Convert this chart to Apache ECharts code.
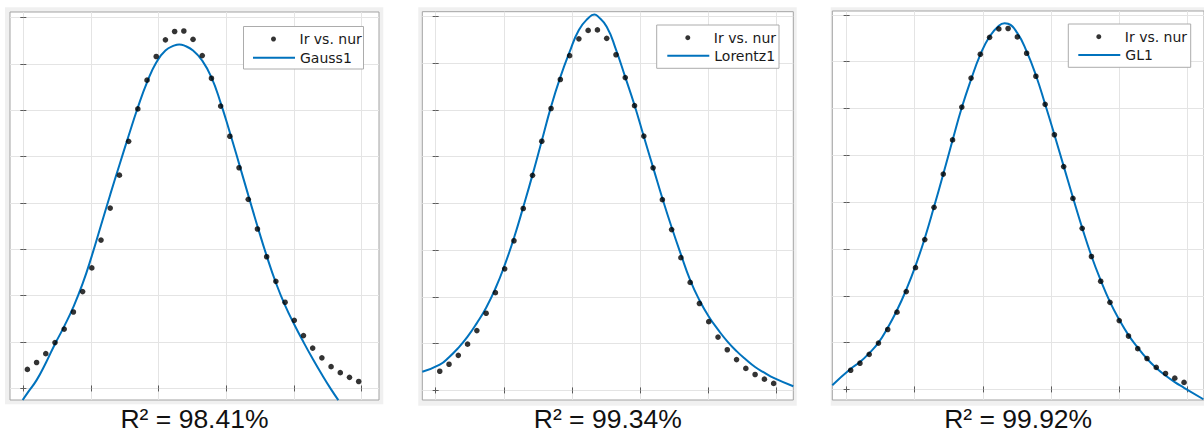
<!DOCTYPE html>
<html>
<head>
<meta charset="utf-8">
<script src="https://cdn.jsdelivr.net/npm/echarts@6/dist/echarts.min.js"></script>
<style>
html,body{margin:0;padding:0;background:#ffffff;}
#chart{width:1204px;height:437px;}
</style>
</head>
<body>
<div id="chart"></div>
<script>
// ---------- data ----------
const nurValues = [0.060, 0.196, 0.332, 0.468, 0.604, 0.740, 0.876, 1.012, 1.148, 1.284, 1.420, 1.556, 1.692, 1.828, 1.964, 2.100, 2.236, 2.372, 2.508, 2.644, 2.780, 2.916, 3.052, 3.188, 3.324, 3.460, 3.596, 3.732, 3.868, 4.004, 4.140, 4.276, 4.412, 4.548, 4.684, 4.820, 4.956];
const irValues = [0.41, 0.56, 0.75, 0.99, 1.28, 1.65, 2.09, 2.60, 3.20, 3.89, 4.60, 5.33, 6.03, 6.65, 7.16, 7.52, 7.70, 7.71, 7.53, 7.18, 6.69, 6.09, 5.44, 4.76, 4.08, 3.44, 2.84, 2.31, 1.86, 1.47, 1.14, 0.87, 0.66, 0.47, 0.34, 0.24, 0.15];

const gaussX = [-0.010, 0.060, 0.196, 0.332, 0.468, 0.604, 0.740, 0.876, 1.012, 1.148, 1.284, 1.420, 1.556, 1.692, 1.828, 1.964, 2.100, 2.236, 2.304, 2.372, 2.508, 2.644, 2.780, 2.916, 3.052, 3.188, 3.324, 3.460, 3.596, 3.732, 3.868, 4.004, 4.140, 4.276, 4.412, 4.548, 4.655];
const gaussY = [-0.25, -0.10, 0.18, 0.55, 0.96, 1.34, 1.76, 2.26, 2.86, 3.52, 4.18, 4.82, 5.45, 6.06, 6.60, 7.03, 7.29, 7.40, 7.42, 7.40, 7.29, 7.07, 6.71, 6.16, 5.52, 4.85, 4.17, 3.50, 2.86, 2.28, 1.79, 1.38, 1.00, 0.64, 0.30, -0.02, -0.25];

const lorentzX = [-0.196, 0.060, 0.196, 0.332, 0.468, 0.604, 0.740, 0.876, 1.012, 1.148, 1.284, 1.420, 1.556, 1.692, 1.828, 1.964, 2.100, 2.236, 2.327, 2.372, 2.508, 2.644, 2.780, 2.916, 3.052, 3.188, 3.324, 3.460, 3.596, 3.732, 3.868, 4.004, 4.140, 4.276, 4.412, 4.548, 4.684, 4.820, 4.956, 5.244];
const lorentzY = [0.40, 0.55, 0.71, 0.91, 1.15, 1.44, 1.77, 2.18, 2.68, 3.26, 3.92, 4.61, 5.34, 6.07, 6.70, 7.24, 7.71, 7.96, 8.04, 8.01, 7.78, 7.29, 6.70, 6.10, 5.43, 4.77, 4.11, 3.49, 2.91, 2.36, 1.93, 1.58, 1.30, 1.05, 0.84, 0.66, 0.50, 0.38, 0.27, 0.09];

const glX = [-0.210, 0.060, 0.196, 0.332, 0.468, 0.604, 0.740, 0.876, 1.012, 1.148, 1.284, 1.420, 1.556, 1.692, 1.828, 1.964, 2.100, 2.236, 2.320, 2.372, 2.508, 2.644, 2.780, 2.916, 3.052, 3.188, 3.324, 3.460, 3.596, 3.732, 3.868, 4.004, 4.140, 4.276, 4.412, 4.548, 4.684, 4.820, 4.956, 5.240];
const glY = [0.09, 0.44, 0.585, 0.775, 1.00, 1.32, 1.69, 2.13, 2.64, 3.23, 3.90, 4.60, 5.32, 6.02, 6.62, 7.15, 7.54, 7.77, 7.82, 7.81, 7.61, 7.22, 6.71, 6.09, 5.44, 4.77, 4.10, 3.45, 2.85, 2.33, 1.87, 1.49, 1.16, 0.895, 0.655, 0.458, 0.296, 0.155, 0.035, -0.21];

const scatterName = 'Ir vs. nur';
const fitNames = ['Gauss1', 'Lorentz1', 'GL1'];
const r2Labels = ['R² = 98.41%', 'R² = 99.34%', 'R² = 99.92%'];
const xTickValues = [0, 1, 2, 3, 4, 5];
const yTickValues = [0, 1, 2, 3, 4, 5, 6, 7, 8];

// ---------- layout ----------
const panels = [
  { grid: {left: 10, top: 12, width: 369, height: 390.3}, xr: [-0.197, 5.256], yr: [-0.249, 8.12],
    frame: [5, 7.3, 378.3, 397], box: [243.5, 26.5, 120, 42.5], dotLeft: 271, lineLeft: 253, legTops: [32, 50.7] },
  { grid: {left: 422.3, top: 11.7, width: 371, height: 390.6}, xr: [-0.196, 5.244], yr: [-0.205, 8.10],
    frame: [418.3, 7.3, 378.4, 398.4], box: [656.7, 25, 122.3, 43.3], dotLeft: 685.3, lineLeft: 667.3, legTops: [30.7, 48.7] },
  { grid: {left: 832.3, top: 11, width: 373, height: 393}, xr: [-0.21, 5.249], yr: [-0.226, 8.083],
    frame: [830.7, 7.3, 380, 398.4], box: [1068.3, 24, 122.4, 43.3], dotLeft: 1096.3, lineLeft: 1078.3, legTops: [29.7, 48] }
];
const fitData = [[gaussX, gaussY], [lorentzX, lorentzY], [glX, glY]];

const grids = [], xAxes = [], yAxes = [], series = [], legends = [], graphics = [];
const zip = (a, b) => a.map((v, i) => [v, b[i]]);

panels.forEach((p, i) => {
  grids.push(Object.assign({show: true, backgroundColor: '#ffffff', borderColor: '#a3a3a3', borderWidth: 1, containLabel: false}, p.grid));
  const tick = (vals) => ({show: true, inside: true, length: 3, customValues: vals, lineStyle: {color: '#5a5a5a', width: 1}});
  const split = {show: true, lineStyle: {color: '#e4e4e4', width: 1}};
  xAxes.push({type: 'value', gridIndex: i, position: 'bottom', min: p.xr[0], max: p.xr[1],
    axisLine: {show: false}, axisTick: tick(xTickValues), axisLabel: {show: false, customValues: xTickValues}, splitLine: split,
    name: r2Labels[i], nameLocation: 'middle', nameGap: 5,
    nameTextStyle: {fontFamily: 'Liberation Sans', fontSize: 26.5, color: '#111111', verticalAlign: 'top'}});
  xAxes.push({type: 'value', gridIndex: i, position: 'top', min: p.xr[0], max: p.xr[1],
    axisLine: {show: false}, axisTick: tick(xTickValues), axisLabel: {show: false, customValues: xTickValues}, splitLine: {show: false}});
  yAxes.push({type: 'value', gridIndex: i, position: 'left', min: p.yr[0], max: p.yr[1],
    axisLine: {show: false}, axisTick: tick(yTickValues), axisLabel: {show: false, customValues: yTickValues}, splitLine: split});
  yAxes.push({type: 'value', gridIndex: i, position: 'right', min: p.yr[0], max: p.yr[1],
    axisLine: {show: false}, axisTick: tick(yTickValues), axisLabel: {show: false, customValues: yTickValues}, splitLine: {show: false}});

  series.push({type: 'line', name: fitNames[i], xAxisIndex: 2 * i, yAxisIndex: 2 * i,
    data: zip(fitData[i][0], fitData[i][1]), showSymbol: false, symbol: 'none', smooth: 0.5,
    clip: true, lineStyle: {color: '#0072BD', width: 2}, itemStyle: {color: '#0072BD'}, z: 2, silent: true});
  series.push({type: 'scatter', name: scatterName, xAxisIndex: 2 * i, yAxisIndex: 2 * i,
    data: zip(nurValues, irValues), symbol: 'circle', symbolSize: 5.6,
    itemStyle: {color: '#000000'}, z: 3, silent: true});

  const legText = {fontFamily: 'DejaVu Sans', fontSize: 14, color: '#1a1a1a'};
  legends.push({data: [scatterName], left: p.dotLeft, top: p.legTops[0], padding: 0, itemWidth: 42, itemHeight: 5,
    selectedMode: false, textStyle: legText, z: 5});
  legends.push({data: [{name: fitNames[i], icon: 'path://M0,0 L42,0 L42,2 L0,2 Z'}], left: p.lineLeft, top: p.legTops[1], padding: 0,
    itemWidth: 42, itemHeight: 14, selectedMode: false, textStyle: legText, z: 5});

  graphics.push({type: 'rect', z: -10, silent: true,
    shape: {x: p.frame[0], y: p.frame[1], width: p.frame[2], height: p.frame[3]},
    style: {fill: '#f0f0f0'}});
  graphics.push({type: 'rect', z: 4, silent: true,
    shape: {x: p.box[0], y: p.box[1], width: p.box[2], height: p.box[3]},
    style: {fill: '#ffffff', stroke: '#acacac', lineWidth: 1}});
});

const chart = echarts.init(document.getElementById('chart'), null, {renderer: 'svg'});
chart.setOption({
  animation: false,
  backgroundColor: '#ffffff',
  grid: grids,
  xAxis: xAxes,
  yAxis: yAxes,
  legend: legends,
  graphic: graphics,
  series: series
});
</script>
</body>
</html>
